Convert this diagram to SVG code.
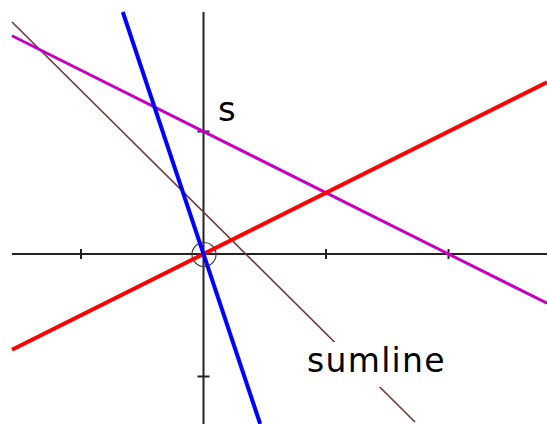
<svg xmlns="http://www.w3.org/2000/svg" width="547" height="424" viewBox="0 0 547 424">
<style>
.axis{stroke:#222;stroke-width:2;fill:none}
.tick{stroke:#222;stroke-width:2}
.origin{stroke:#404040;stroke-width:1.2;fill:none}
.ln{fill:none;stroke-linecap:butt}
.lbl{font-family:"DejaVu Sans",Verdana,sans-serif;fill:#000}
</style>
<rect width="547" height="424" fill="#fff"/>
<g id="axes">
<line class="axis" x1="12" y1="254" x2="547" y2="254"/>
<line class="axis" x1="203.5" y1="12" x2="203.5" y2="424"/>
<line class="tick" x1="81" y1="249" x2="81" y2="259"/>
<line class="tick" x1="326" y1="249" x2="326" y2="259"/>
<line class="tick" x1="448.5" y1="249" x2="448.5" y2="259"/>
<line class="tick" x1="197.5" y1="376.5" x2="209.5" y2="376.5"/>
<line class="tick" x1="197.5" y1="131.5" x2="209.5" y2="131.5"/>
<circle class="origin" cx="204" cy="254.5" r="12"/>
</g>
<g id="connectors">
<line id="sumline" class="ln" x1="12" y1="22" x2="415" y2="422" stroke="#6b3a3a" stroke-width="1.6"/>
<line id="magenta" class="ln" x1="12" y1="35.75" x2="547" y2="303.25" stroke="#c400c4" stroke-width="3"/>
<line id="red" class="ln" x1="12" y1="349.75" x2="547" y2="82.25" stroke="#ff0000" stroke-width="4"/>
<line id="blue" class="ln" x1="122.8" y1="12" x2="260.2" y2="424" stroke="#0000ff" stroke-width="4"/>
</g>
<g id="label-s">
<text class="lbl" x="218" y="121" font-size="34">s</text>
</g>
<g id="label-sumline">
<rect x="305" y="342" width="147" height="45" fill="#fff"/>
<text class="lbl" x="307" y="372" font-size="33" letter-spacing="1.3">sumline</text>
</g>
</svg>
